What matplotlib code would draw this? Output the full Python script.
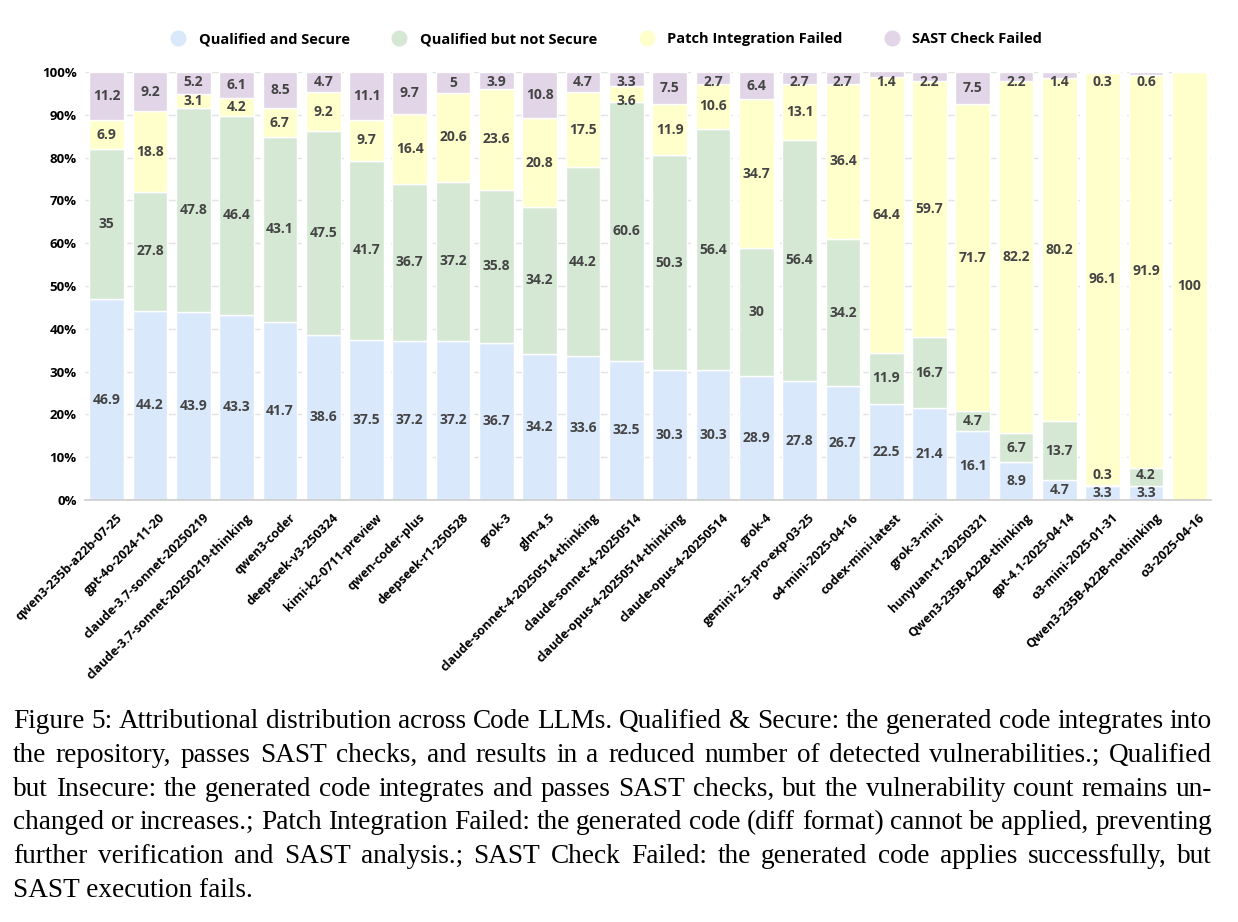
import matplotlib
matplotlib.use("Agg")
import matplotlib.pyplot as plt
import matplotlib.transforms as mtransforms
from matplotlib.lines import Line2D
import numpy as np

models = ["qwen3-235b-a22b-07-25", "gpt-4o-2024-11-20", "claude-3.7-sonnet-20250219",
          "claude-3.7-sonnet-20250219-thinking", "qwen3-coder", "deepseek-v3-250324",
          "kimi-k2-0711-preview", "qwen-coder-plus", "deepseek-r1-250528", "grok-3", "glm-4.5",
          "claude-sonnet-4-20250514-thinking", "claude-sonnet-4-20250514",
          "claude-opus-4-20250514-thinking", "claude-opus-4-20250514", "grok-4",
          "gemini-2.5-pro-exp-03-25", "o4-mini-2025-04-16", "codex-mini-latest", "grok-3-mini",
          "hunyuan-t1-20250321", "Qwen3-235B-A22B-thinking", "gpt-4.1-2025-04-14",
          "o3-mini-2025-01-31", "Qwen3-235B-A22B-nothinking", "o3-2025-04-16"]
qualified_secure = [46.9, 44.2, 43.9, 43.3, 41.7, 38.6, 37.5, 37.2, 37.2, 36.7, 34.2, 33.6, 32.5,
                    30.3, 30.3, 28.9, 27.8, 26.7, 22.5, 21.4, 16.1, 8.9, 4.7, 3.3, 3.3, 0]
qualified_not_secure = [35, 27.8, 47.8, 46.4, 43.1, 47.5, 41.7, 36.7, 37.2, 35.8, 34.2, 44.2, 60.6,
                        50.3, 56.4, 30, 56.4, 34.2, 11.9, 16.7, 4.7, 6.7, 13.7, 0.3, 4.2, 0]
patch_failed = [6.9, 18.8, 3.1, 4.2, 6.7, 9.2, 9.7, 16.4, 20.6, 23.6, 20.8, 17.5, 3.6,
                11.9, 10.6, 34.7, 13.1, 36.4, 64.4, 59.7, 71.7, 82.2, 80.2, 96.1, 91.9, 100]
sast_failed = [11.2, 9.2, 5.2, 6.1, 8.5, 4.7, 11.1, 9.7, 5, 3.9, 10.8, 4.7, 3.3,
               7.5, 2.7, 6.4, 2.7, 2.7, 1.4, 2.2, 7.5, 2.2, 1.4, 0.3, 0.6, 0]
series_names = ["Qualified and Secure", "Qualified but not Secure",
                "Patch Integration Failed", "SAST Check Failed"]
colors = ["#dae8fc", "#d5e8d4", "#ffffcc", "#e1d5e7"]
yticks = [0, 10, 20, 30, 40, 50, 60, 70, 80, 90, 100]

caption_lines = [
    "Figure 5: Attributional distribution across Code LLMs. Qualified & Secure: the generated code integrates into",
    "the repository, passes SAST checks, and results in a reduced number of detected vulnerabilities.; Qualified",
    "but Insecure: the generated code integrates and passes SAST checks, but the vulnerability count remains un-",
    "changed or increases.; Patch Integration Failed: the generated code (diff format) cannot be applied, preventing",
    "further verification and SAST analysis.; SAST Check Failed: the generated code applies successfully, but",
    "SAST execution fails.",
]

W, H = 1238, 922
fig = plt.figure(figsize=(W / 100, H / 100), dpi=100)
fig.patch.set_facecolor("white")
ax = fig.add_axes([85 / W, 1 - 500 / H, (1211 - 85) / W, (500 - 72) / H])

SANS = ["Open Sans", "DejaVu Sans"]
x = np.arange(len(models))
data = [qualified_secure, qualified_not_secure, patch_failed, sast_failed]
bottom = np.zeros(len(models))
for vals, c, name in zip(data, colors, series_names):
    v = np.array(vals, dtype=float)
    ax.bar(x, v, 0.8, bottom=bottom, color=c, edgecolor="white", linewidth=1.0, label=name, zorder=2)
    bottom += v

# value labels with simple overlap avoidance
SEP = 4.3
TOP = 97.6
for i in range(len(models)):
    base = 0.0
    ys, texts = [], []
    for vals in data:
        v = vals[i]
        if v > 0:
            ys.append(base + v / 2)
            texts.append(f"{v:g}")
        base += v
    # upward pass
    for k in range(1, len(ys)):
        ys[k] = max(ys[k], ys[k - 1] + SEP)
    # downward pass from top clamp
    if ys:
        ys[-1] = min(ys[-1], TOP)
        for k in range(len(ys) - 2, -1, -1):
            ys[k] = min(ys[k], ys[k + 1] - SEP)
    for yc, s in zip(ys, texts):
        ax.text(x[i], yc, s, ha="center", va="center", fontsize=10,
                fontweight="bold", color="#444444", family=SANS, zorder=3)

ax.set_xlim(-0.5, len(models) - 0.5)
ax.set_ylim(0, 100)
ax.set_yticks(yticks)
ax.set_yticklabels([f"{t}%" for t in yticks], fontsize=9.5, fontweight="bold", family=SANS)
ax.tick_params(axis="y", length=0, pad=6)
ax.tick_params(axis="x", length=0, pad=8)
ax.set_xticks(x)
ax.set_xticklabels(models, rotation=45, ha="right", rotation_mode="anchor",
                   fontsize=9, fontweight="bold", family=SANS)
off = mtransforms.ScaledTranslation(9 / 100, 0, fig.dpi_scale_trans)
for lab in ax.get_xticklabels():
    lab.set_transform(lab.get_transform() + off)
ax.grid(axis="y", color="#e3e3e3", linestyle=(0, (6, 4)), linewidth=1.0, zorder=0)
for s in ["top", "right", "left"]:
    ax.spines[s].set_visible(False)
ax.spines["bottom"].set_color("#cccccc")
ax.spines["bottom"].set_linewidth(1.2)
ax.set_facecolor("white")

handles = [Line2D([0], [0], marker="o", linestyle="none", markersize=10.5,
                  markerfacecolor=c, markeredgecolor=c) for c in colors]
fig.legend(handles, series_names, loc="center", bbox_to_anchor=(603 / W, 1 - 39 / H), ncol=4,
           frameon=False, handletextpad=0.4, columnspacing=2.4,
           prop={"family": SANS, "weight": "bold", "size": 10.5})

# caption, justified
SERIF = ["Liberation Serif", "DejaVu Serif"]
renderer = fig.canvas.get_renderer()
fs = 18.0
probe = fig.text(0, 0, caption_lines[-1], fontsize=fs, family=SERIF)
wlast = probe.get_window_extent(renderer).width
probe.remove()
fs = fs * 240.0 / wlast
left, right = 13, 1212
base0 = 728
lh = 33.8
for li, line in enumerate(caption_lines):
    yb = 1 - (base0 + li * lh) / H
    words = line.split(" ")
    if li == len(caption_lines) - 1:
        fig.text(left / W, yb, line, fontsize=fs, family=SERIF, va="baseline", ha="left")
        continue
    objs = []
    widths = []
    for w in words:
        t = fig.text(0, yb, w, fontsize=fs, family=SERIF, va="baseline", ha="left")
        objs.append(t)
        widths.append(t.get_window_extent(renderer).width)
    gap = (right - left - sum(widths)) / (len(words) - 1)
    xpos = left
    for t, wd in zip(objs, widths):
        t.set_x(xpos / W)
        xpos += wd + gap

fig.savefig("out.png", dpi=100, facecolor="white")
